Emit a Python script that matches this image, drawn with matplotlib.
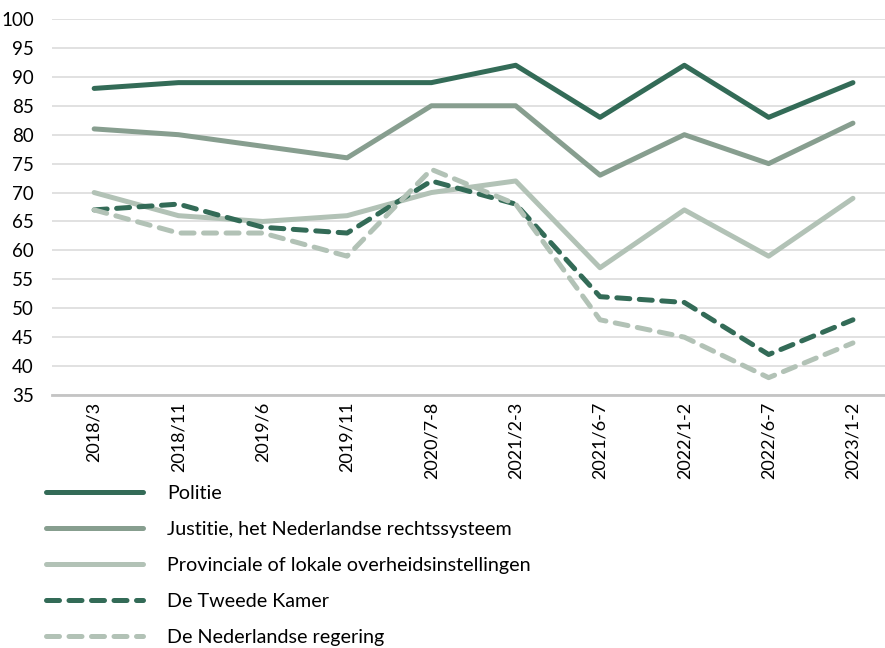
import matplotlib.pyplot as plt

periods = ['2018/3', '2018/11', '2019/6', '2019/11', '2020/7-8',
           '2021/2-3', '2021/6-7', '2022/1-2', '2022/6-7', '2023/1-2']

politie = [88, 89, 89, 89, 89, 92, 83, 92, 83, 89]
justitie = [81, 80, 78, 76, 85, 85, 73, 80, 75, 82]
provinciale = [70, 66, 65, 66, 70, 72, 57, 67, 59, 69]
tweede_kamer = [67, 68, 64, 63, 72, 68, 52, 51, 42, 48]
regering = [67, 63, 63, 59, 74, 68, 48, 45, 38, 44]

dark = '#336b57'
mid = '#879e8f'
light = '#b2c2b6'

plt.rcParams['font.family'] = ['Lato', 'DejaVu Sans']

fig = plt.figure(figsize=(8.85, 6.48), dpi=100)
ax = fig.add_axes([52 / 885, 253 / 648, 1 - 52 / 885, 376 / 648])

x = list(range(len(periods)))
lw = 3.6
ax.plot(x, politie, color=dark, lw=lw, label='Politie', solid_capstyle='round')
ax.plot(x, justitie, color=mid, lw=lw, label='Justitie, het Nederlandse rechtssysteem', solid_capstyle='round')
ax.plot(x, provinciale, color=light, lw=lw, label='Provinciale of lokale overheidsinstellingen', solid_capstyle='round')
ax.plot(x, tweede_kamer, color=dark, lw=lw, ls=(0, (2.6, 1.9)), dash_capstyle='round', label='De Tweede Kamer')
ax.plot(x, regering, color=light, lw=lw, ls=(0, (2.6, 1.9)), dash_capstyle='round', label='De Nederlandse regering')

ax.set_ylim(35, 100)
ax.set_yticks(range(35, 101, 5))
ax.set_xlim(-0.5, 9.38)
ax.set_xticks(x)
ax.set_xticklabels(periods, rotation=90, fontsize=13)
ax.tick_params(axis='y', labelsize=13.5, length=0, pad=13)
ax.tick_params(axis='x', length=0, pad=5)
ax.grid(axis='y', color='#dcdcdc', lw=1.2)
ax.set_axisbelow(True)
for s in ['top', 'right', 'left']:
    ax.spines[s].set_visible(False)
ax.spines['bottom'].set_color('#c4c4c4')
ax.spines['bottom'].set_linewidth(2)

fig.legend(loc='upper left', bbox_to_anchor=(28 / 885, 1 - 467 / 648), frameon=False,
           fontsize=14.2, handlelength=4.95, handletextpad=1.2, labelspacing=0.97)

fig.savefig('out.png', dpi=100)
